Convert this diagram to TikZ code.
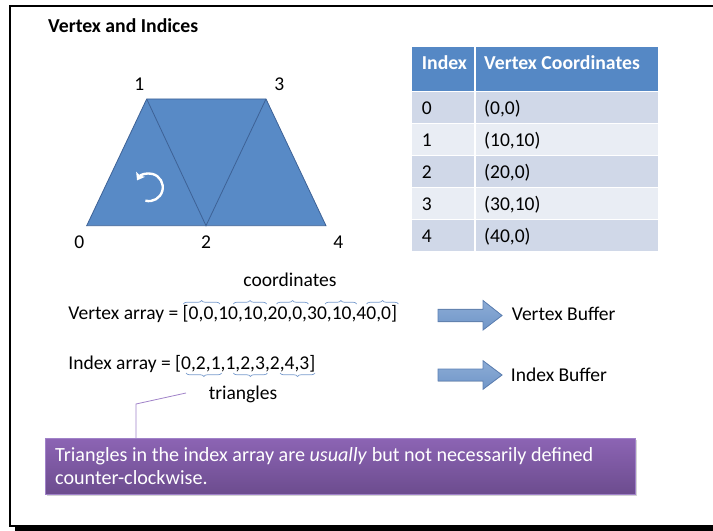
\documentclass[tikz,border=0pt]{standalone}
\usepackage{fontspec}
\setmainfont{Carlito}
\usetikzlibrary{decorations.pathreplacing,arrows.meta,shadows}
\definecolor{triFill}{RGB}{88,138,198}
\definecolor{triEdge}{RGB}{62,98,150}
\definecolor{hdrFill}{RGB}{85,136,197}
\definecolor{rowDark}{RGB}{208,216,232}
\definecolor{rowLight}{RGB}{233,237,244}
\definecolor{purpTop}{RGB}{140,100,180}
\definecolor{purpBot}{RGB}{108,76,142}
\definecolor{purpEdge}{RGB}{160,130,200}
\definecolor{arrTop}{RGB}{140,172,214}
\definecolor{arrBot}{RGB}{112,150,200}
\definecolor{arrEdge}{RGB}{92,128,180}
\definecolor{braceCol}{RGB}{120,155,205}
\begin{document}
\begin{tikzpicture}[x=1bp,y=-1bp,
  txt/.style={font=\fontsize{19.6}{23}\selectfont, inner sep=0pt},
  boldtxt/.style={font=\fontsize{19.8}{23}\selectfont\bfseries, inner sep=0pt},
  bracesty/.style={draw=braceCol, line width=0.7bp, decorate, decoration={brace, amplitude=3.5bp}},
  blockarrow/.style={top color=arrTop, bottom color=arrBot, draw=arrEdge, line width=0.8bp},
  edge/.style={draw=triEdge, line width=0.8bp}]
\useasboundingbox (0,0) rectangle (713,531);
% frame
\fill[black] (15,527) rectangle (713,531);
\draw[line width=1.2bp] (713,6) -- (10,6) -- (10,526) -- (713,526);
% title
\node[boldtxt, anchor=base west] (title) at (48,32.7) {Vertex and Indices};
% triangles
\coordinate (v0) at (86.7,225.7);
\coordinate (v1) at (146.7,99);
\coordinate (v2) at (206,225.7);
\coordinate (v3) at (266,99);
\coordinate (v4) at (326,225.7);
\filldraw[fill=triFill, edge] (v0) -- (v1) -- (v3) -- (v4) -- cycle;
\draw[edge] (v1) -- (v2) -- (v3);
\node[txt, anchor=base] (l0) at (79.3,248.3) {0};
\node[txt, anchor=base] (l1) at (139.3,90.7) {1};
\node[txt, anchor=base] (l2) at (206,248.3) {2};
\node[txt, anchor=base] (l3) at (279.3,90.7) {3};
\node[txt, anchor=base] (l4) at (338.3,248.3) {4};
\coordinate (rc) at (149,187.3);
\draw[white, line width=2.4bp, -{Stealth[length=7bp,width=10bp,inset=1.5bp]}] (rc) ++(105:13.8) arc[start angle=105, end angle=-150, radius=13.8];
% table
\fill[hdrFill] (412.3,46.7) rectangle (657.7,90.7);
\foreach \i/\c in {0/rowDark,1/rowLight,2/rowDark,3/rowLight,4/rowDark}
  \fill[\c] (412.3,{92+32*\i}) rectangle (657.7,{122.8+32*\i});
\draw[white, line width=1.5bp] (475,46.7) -- (475,251.3);
\node[boldtxt, text=white, anchor=base west] (hIdx) at (421.7,69.3) {Index};
\node[boldtxt, text=white, anchor=base west] (hVC) at (484,69.3) {Vertex Coordinates};
\foreach \i/\v in {0/{(0,0)},1/{(10,10)},2/{(20,0)},3/{(30,10)},4/{(40,0)}} {
  \node[txt, anchor=base west] (i\i) at (421.7,{115+32*\i}) {\i};
  \node[txt, anchor=base west] (c\i) at (484,{115+32*\i}) {\v};
}
% arrays
\node[txt, anchor=base] (coordlbl) at (290,286.7) {coordinates};
\node[txt, anchor=base west] (varr) at (68.3,319.5) {Vertex array = [0,0,10,10,20,0,30,10,40,0]};
\draw[bracesty] (183.3,304) -- (220,304);
\draw[bracesty] (233.3,304) -- (266.7,304);
\draw[bracesty] (276.7,304) -- (308.3,304);
\draw[bracesty] (325,304) -- (356.7,304);
\draw[bracesty] (366.7,304) -- (398.3,304);
\node[txt, anchor=base west] (iarr) at (68.3,369) {Index array = [0,2,1,1,2,3,2,4,3]};
\draw[bracesty] (221.7,373) -- (186,373);
\draw[bracesty] (267.3,373) -- (233.3,373);
\draw[bracesty] (315,373) -- (280,373);
\node[txt, anchor=base] (tri) at (243,399.3) {triangles};
% block arrows
\filldraw[blockarrow] (438,309.3) -- (483,309.3) -- (483,300.5) -- (502,315.5) -- (483,330) -- (483,321.7) -- (438,321.7) -- cycle;
\filldraw[blockarrow] (438,369) -- (483,369) -- (483,360.7) -- (502,375) -- (483,389.3) -- (483,381) -- (438,381) -- cycle;
\node[txt, anchor=base west] (vb) at (511.7,320.7) {Vertex Buffer};
\node[txt, anchor=base west] (ib) at (510.7,381) {Index Buffer};
% note box
\node[draw=purpEdge, line width=0.6bp, top color=purpTop, bottom color=purpBot,
  drop shadow={shadow xshift=1.5bp, shadow yshift=-2bp, opacity=0.35},
  anchor=north west, inner sep=0pt, minimum width=590bp, minimum height=56bp] (note) at (45,438) {};
\node[txt, text=white, anchor=west, align=left, font=\fontsize{20.2}{23.5}\selectfont] (notetxt) at ([xshift=10bp]note.west)
  {Triangles in the index array are \textit{usually} but not necessarily defined\\counter-clockwise.};
\coordinate (cs) at (186,393);
\coordinate (ck) at (136,404);
\draw[purpEdge, line width=0.8bp] (cs) -- (ck) -- (ck |- note.north);
\end{tikzpicture}
\end{document}
